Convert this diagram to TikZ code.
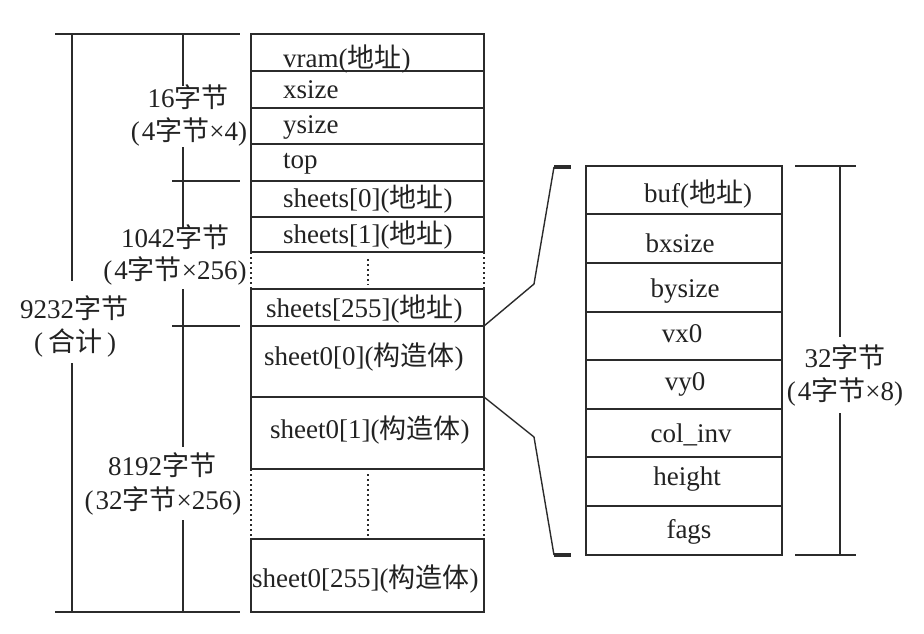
\documentclass[tikz,border=0pt]{standalone}
\usepackage{fontspec}
\setmainfont{Liberation Serif}
\newfontfamily\cjk{Noto Sans CJK SC}
\definecolor{ln}{HTML}{2B2B2B}
\definecolor{tx}{HTML}{222222}
\begin{document}
\begin{tikzpicture}[x=1pt,y=-1pt,
  cell/.style={draw=ln,line width=1.7pt,inner sep=0pt,outer sep=0pt,minimum width=233pt,anchor=north west},
  rcell/.style={draw=ln,line width=1.7pt,inner sep=0pt,outer sep=0pt,minimum width=196pt,anchor=north west},
  thickedge/.style={draw=ln,line width=2.6pt},
  dim/.style={draw=ln,line width=1.3pt},
  dotline/.style={draw=ln,line width=1.5pt,dash pattern=on 1.5pt off 3.5pt},
  lt/.style={font=\fontsize{27}{31}\selectfont,text=tx,inner sep=0pt,anchor=base west},
  ct/.style={font=\fontsize{27}{31}\selectfont,text=tx,inner sep=0pt,anchor=base},
  bracketline/.style={draw=ln,line width=1.4pt},
  bracketend/.style={draw=ln,line width=3.2pt}]
\useasboundingbox (0,0) rectangle (924,634);
\fill[white] (0,0) rectangle (924,634);

% ---- left column cells
\node[cell,minimum height=37pt] (vram) at (251,34) {};
\node[cell,minimum height=37pt] (xs) at (251,71) {};
\node[cell,minimum height=36pt] (ys) at (251,108) {};
\node[cell,minimum height=37pt] (tp) at (251,144) {};
\node[cell,minimum height=36pt] (s0) at (251,181) {};
\node[cell,minimum height=35pt] (s1) at (251,217) {};
\node[cell,minimum height=37pt] (s255) at (251,289) {};
\node[cell,minimum height=71pt] (sh0) at (251,326) {};
\node[cell,minimum height=72pt] (sh1) at (251,397) {};
\node[cell,minimum height=73pt] (sh255) at (251,539) {};

% thick vertical borders
\draw[thickedge] (vram.north west) -- (s1.south west);
\draw[thickedge] (vram.north east) -- (s1.south east);
\draw[thickedge] (s255.north west) -- (sh1.south west);
\draw[thickedge] (s255.north east) -- (sh1.south east);
\draw[thickedge] (sh255.north west) -- (sh255.south west);
\draw[thickedge] (sh255.north east) -- (sh255.south east);

% dotted gaps
\draw[dotline] (s1.south west) -- (s255.north west);
\draw[dotline] (s1.south east) -- (s255.north east);
\coordinate (g1a) at (368,259);
\coordinate (g1b) at (368,285);
\draw[dotline] (g1a) -- (g1b);
\draw[dotline] (sh1.south west) -- (sh255.north west);
\draw[dotline] (sh1.south east) -- (sh255.north east);
\coordinate (g2a) at (368,474);
\coordinate (g2b) at (368,536);
\draw[dotline] (g2a) -- (g2b);

% left column texts
\node[lt] (tvram) at (283,67) {vram({\cjk 地址})};
\node[lt] (txs) at (283,99) {xsize};
\node[lt] (tys) at (283,133) {ysize};
\node[lt] (ttp) at (283,168) {top};
\node[lt] (ts0) at (283,207) {sheets[0]({\cjk 地址})};
\node[lt] (ts1) at (283,243) {sheets[1]({\cjk 地址})};
\node[lt] (ts255) at (266,317) {sheets[255]({\cjk 地址})};
\node[lt] (tsh0) at (264,365) {sheet0[0]({\cjk 构造体})};
\node[lt] (tsh1) at (270,438) {sheet0[1]({\cjk 构造体})};
\node[lt] (tsh255) at (252,587) {sheet0[255]({\cjk 构造体})};

% ---- left dimension lines
\coordinate (o1) at (72,34); \coordinate (o2) at (72,281);
\coordinate (o3) at (72,363); \coordinate (o4) at (72,612);
\draw[dim] (o1) -- (o2);
\draw[dim] (o3) -- (o4);
\coordinate (ht1) at (55,34); \coordinate (ht2) at (240,34);
\coordinate (hb1) at (55,612); \coordinate (hb2) at (240,612);
\draw[dim] (ht1) -- (ht2);
\draw[dim] (hb1) -- (hb2);
\coordinate (i1) at (183,34); \coordinate (i2) at (183,86);
\coordinate (i3) at (183,147); \coordinate (i4) at (183,228);
\coordinate (i5) at (183,289); \coordinate (i6) at (183,447);
\coordinate (i7) at (183,520); \coordinate (i8) at (183,612);
\draw[dim] (i1) -- (i2);
\draw[dim] (i3) -- (i4);
\draw[dim] (i5) -- (i6);
\draw[dim] (i7) -- (i8);
\coordinate (k1) at (172,181); \coordinate (k2) at (240,181);
\coordinate (k3) at (172,326); \coordinate (k4) at (240,326);
\draw[dim] (k1) -- (k2);
\draw[dim] (k3) -- (k4);

\node[ct] (l16) at (188,107) {16{\cjk 字节}};
\node[ct] (l16b) at (189,140) {(\hspace{2pt}4{\cjk 字节}×4)};
\node[ct] (l1042) at (175,247) {1042{\cjk 字节}};
\node[ct] (l1042b) at (175,279) {(\hspace{2pt}4{\cjk 字节}×256)};
\node[ct] (l9232) at (74,318) {9232{\cjk 字节}};
\node[ct] (l9232b) at (75,351) {(\hspace{5pt}{\cjk 合计}\hspace{5pt})};
\node[ct] (l8192) at (162,475) {8192{\cjk 字节}};
\node[ct] (l8192b) at (163,509) {(\hspace{2pt}32{\cjk 字节}×256)};

% ---- right structure
\node[rcell,minimum height=48pt] (buf) at (586,166) {};
\node[rcell,minimum height=49pt] (bx) at (586,214) {};
\node[rcell,minimum height=49pt] (by) at (586,263) {};
\node[rcell,minimum height=48pt] (vx) at (586,312) {};
\node[rcell,minimum height=49pt] (vy) at (586,360) {};
\node[rcell,minimum height=48pt] (ci) at (586,409) {};
\node[rcell,minimum height=49pt] (hg) at (586,457) {};
\node[rcell,minimum height=49pt] (fg) at (586,506) {};
\draw[draw=ln,line width=2.2pt] (buf.north west) -- (fg.south west);
\draw[draw=ln,line width=2.2pt] (buf.north east) -- (fg.south east);

\node[ct] (tbuf) at (698,202) {buf({\cjk 地址})};
\node[ct] (tbx) at (680,252) {bxsize};
\node[ct] (tby) at (685,297) {bysize};
\node[ct] (tvx) at (682,342) {vx0};
\node[ct] (tvy) at (685,390) {vy0};
\node[ct] (tci) at (691,442) {col\_inv};
\node[ct] (thg) at (687,485) {height};
\node[ct] (tfg) at (689,538) {fags};

% right dimension
\coordinate (r1) at (840,166); \coordinate (r2) at (840,337);
\coordinate (r3) at (840,413); \coordinate (r4) at (840,555);
\draw[dim] (r1) -- (r2);
\draw[dim] (r3) -- (r4);
\coordinate (rt1) at (795,166); \coordinate (rt2) at (856,166);
\coordinate (rb1) at (795,555); \coordinate (rb2) at (856,555);
\draw[dim] (rt1) -- (rt2);
\draw[dim] (rb1) -- (rb2);
\node[ct] (l32) at (845,367) {32{\cjk 字节}};
\node[ct] (l32b) at (845,400) {(\hspace{2pt}4{\cjk 字节}×8)};

% ---- bracket from sheet0[0] to the structure
\coordinate (bt1) at (554,167); \coordinate (bt2) at (571,167);
\coordinate (bb1) at (554,555); \coordinate (bb2) at (571,555);
\coordinate (bm1) at (534,284); \coordinate (bm2) at (534,437);
\draw[bracketline] (sh0.north east) -- (bm1) -- (bt1);
\draw[bracketline] (sh0.south east) -- (bm2) -- (bb1);
\draw[bracketend] (bt1) -- (bt2);
\draw[bracketend] (bb1) -- (bb2);
\end{tikzpicture}
\end{document}
